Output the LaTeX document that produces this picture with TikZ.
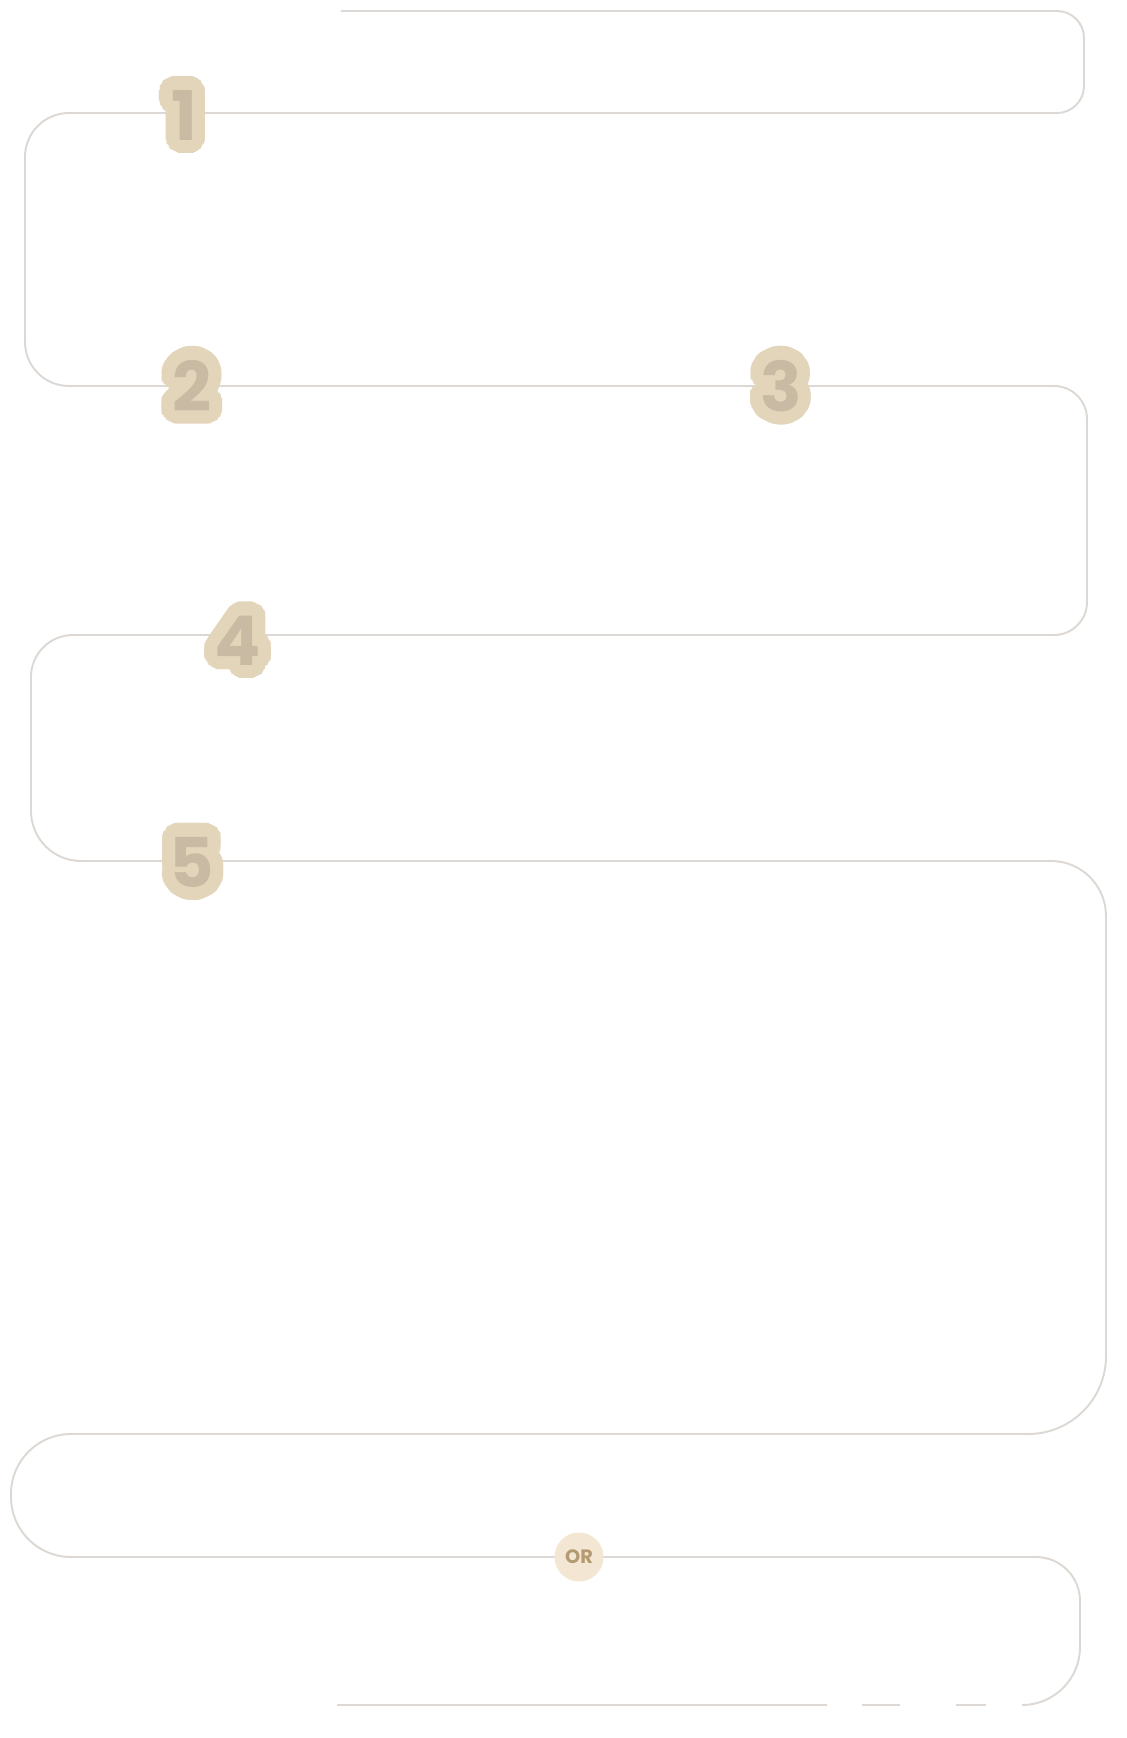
\documentclass[tikz,border=0pt]{standalone}
\usepackage{fontspec}
\setmainfont{Poppins}
\usepackage{contour}
\contourlength{7.5pt}
\contournumber{40}
\definecolor{pathgray}{RGB}{221,216,211}
\definecolor{badgeedge}{RGB}{227,213,186}
\definecolor{badgefill}{RGB}{201,186,163}
\definecolor{orfill}{RGB}{243,231,211}
\definecolor{ortext}{RGB}{179,154,114}

\begin{document}
\begin{tikzpicture}[x=0.02cm,y=-0.02cm,
    snake/.style={draw=pathgray,line width=1.1pt},
    badge/.style={text=badgefill,font=\fontsize{39}{39}\selectfont\bfseries,inner sep=0pt,anchor=base},
    orbadge/.style={circle,fill=orfill,text=ortext,minimum size=0.98cm,inner sep=0pt,
      font=\fontsize{11}{11}\selectfont\bfseries}]
  \useasboundingbox (0,0) rectangle (1126,1738);
  \coordinate (start) at (341,11);
  \coordinate (stop) at (1022,1705);
  % winding line
  \draw[snake] (start)
    [rounded corners=0.54cm] -- (1084,11)
    [rounded corners=0.54cm] -- (1084,113)
    [rounded corners=0.88cm] -- (25,113)
    [rounded corners=0.88cm] -- (25,386)
    [rounded corners=0.66cm] -- (1087,386)
    [rounded corners=0.66cm] -- (1087,635)
    [rounded corners=0.84cm] -- (31,635)
    [rounded corners=1.0cm] -- (31,861)
    [rounded corners=1.1cm] -- (1106,861)
    [rounded corners=1.56cm] -- (1106,1434)
    [rounded corners=1.2cm] -- (11,1434)
    [rounded corners=1.2cm] -- (11,1557)
    [rounded corners=0.88cm] -- (1080,1557)
    [rounded corners=1.16cm] -- (1080,1705)
    -- (stop);
  \coordinate (tailA) at (986,1705);
  \coordinate (tailB) at (956,1705);
  \coordinate (tailC) at (900,1705);
  \coordinate (tailD) at (862,1705);
  \coordinate (tailE) at (827,1705);
  \coordinate (tailF) at (337,1705);
  \draw[snake] (tailA) -- (tailB);
  \draw[snake] (tailC) -- (tailD);
  \draw[snake] (tailE) -- (tailF);
  % step numbers
  \node[badge] (n1) at (184,140) {\contour{badgeedge}{1}};
  \node[badge] (n2) at (192,411) {\contour{badgeedge}{2}};
  \node[badge] (n3) at (781,411) {\contour{badgeedge}{3}};
  \node[badge] (n4) at (238,665) {\contour{badgeedge}{4}};
  \node[badge] (n5) at (192,887) {\contour{badgeedge}{5}};
  \node[orbadge] (or) at (579,1557) {OR};
\end{tikzpicture}
\end{document}
